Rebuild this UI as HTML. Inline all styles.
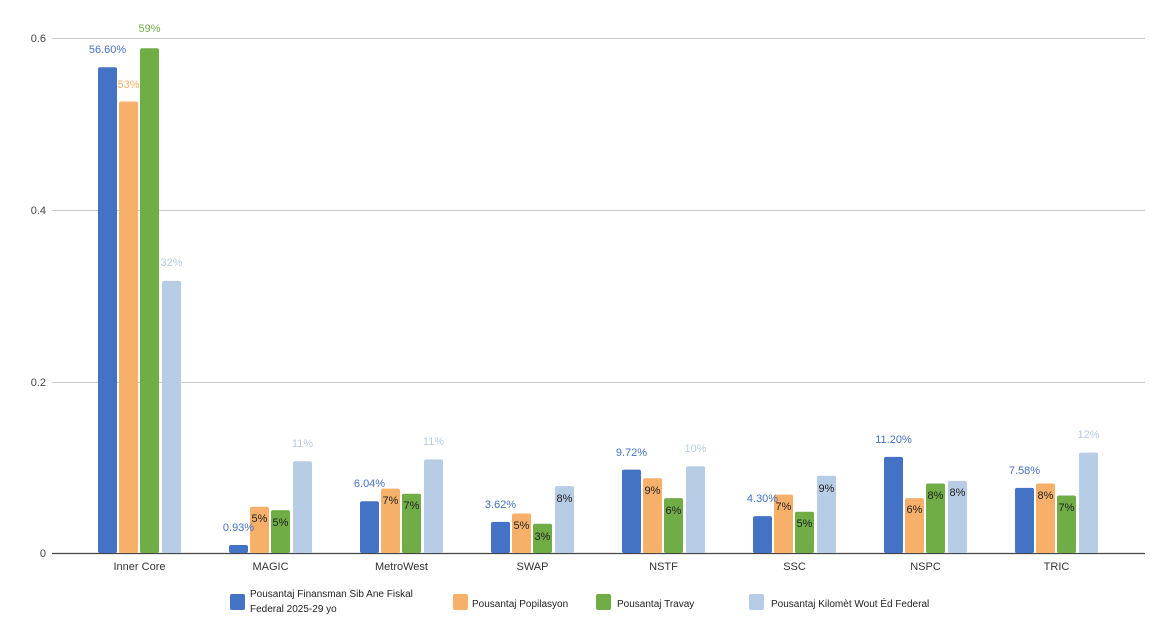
<!DOCTYPE html>
<html><head><meta charset="utf-8"><style>
html,body{margin:0;padding:0;background:#fff}
svg{display:block;font-family:"Liberation Sans",Arial,sans-serif}
</style></head><body>
<svg width="1174" height="644" viewBox="0 0 1174 644" xmlns="http://www.w3.org/2000/svg">
<g stroke="#c8c8c8" stroke-width="1">
<line x1="52" y1="38.5" x2="1145" y2="38.5"/>
<line x1="52" y1="210.5" x2="1145" y2="210.5"/>
<line x1="52" y1="382.5" x2="1145" y2="382.5"/>
</g>
<line x1="52" y1="553.5" x2="1145" y2="553.5" stroke="#444" stroke-width="1.2"/>
<g font-size="11" fill="#444" text-anchor="end">
<text x="46" y="42">0.6</text><text x="46" y="214">0.4</text><text x="46" y="386">0.2</text><text x="46" y="557">0</text>
</g>
<g font-size="11" fill="#333" text-anchor="middle">
<text x="139.5" y="570">Inner Core</text><text x="270.5" y="570">MAGIC</text><text x="401.5" y="570">MetroWest</text><text x="532.5" y="570">SWAP</text><text x="663.5" y="570">NSTF</text><text x="794.5" y="570">SSC</text><text x="925.5" y="570">NSPC</text><text x="1056.5" y="570">TRIC</text>
</g>
<g fill="#4472c4">
<rect x="98" y="67.2" width="19" height="485.8" rx="2"/>
<rect x="229" y="545" width="19" height="8" rx="2"/>
<rect x="360" y="501.2" width="19" height="51.8" rx="2"/>
<rect x="491" y="521.9" width="19" height="31.1" rx="2"/>
<rect x="622" y="469.6" width="19" height="83.4" rx="2"/>
<rect x="753" y="516.1" width="19" height="36.9" rx="2"/>
<rect x="884" y="456.9" width="19" height="96.1" rx="2"/>
<rect x="1015" y="487.9" width="19" height="65.1" rx="2"/>
</g>
<g fill="#f6b06a">
<rect x="119" y="101.5" width="19" height="451.5" rx="2"/>
<rect x="250" y="506.7" width="19" height="46.3" rx="2"/>
<rect x="381" y="488.6" width="19" height="64.4" rx="2"/>
<rect x="512" y="513.5" width="19" height="39.5" rx="2"/>
<rect x="643" y="478.3" width="19" height="74.7" rx="2"/>
<rect x="774" y="494.6" width="19" height="58.4" rx="2"/>
<rect x="905" y="498.1" width="19" height="54.9" rx="2"/>
<rect x="1036" y="483.5" width="19" height="69.5" rx="2"/>
</g>
<g fill="#70ad47">
<rect x="140" y="48.3" width="19" height="504.7" rx="2"/>
<rect x="271" y="510.1" width="19" height="42.9" rx="2"/>
<rect x="402" y="493.8" width="19" height="59.2" rx="2"/>
<rect x="533" y="523.8" width="19" height="29.2" rx="2"/>
<rect x="664" y="498.1" width="19" height="54.9" rx="2"/>
<rect x="795" y="511.8" width="19" height="41.2" rx="2"/>
<rect x="926" y="483.5" width="19" height="69.5" rx="2"/>
<rect x="1057" y="495.5" width="19" height="57.5" rx="2"/>
</g>
<g fill="#b7cce5">
<rect x="162" y="280.9" width="19" height="272.1" rx="2"/>
<rect x="293" y="461.2" width="19" height="91.8" rx="2"/>
<rect x="424" y="459.4" width="19" height="93.6" rx="2"/>
<rect x="555" y="486.1" width="19" height="66.9" rx="2"/>
<rect x="686" y="466.3" width="19" height="86.7" rx="2"/>
<rect x="817" y="475.8" width="19" height="77.2" rx="2"/>
<rect x="948" y="480.9" width="19" height="72.1" rx="2"/>
<rect x="1079" y="452.6" width="19" height="100.4" rx="2"/>
</g>
<g font-size="11" text-anchor="middle">
<g fill="#4472c4">
<text x="107.5" y="53">56.60%</text><text x="238.5" y="531">0.93%</text><text x="369.5" y="487">6.04%</text><text x="500.5" y="508">3.62%</text><text x="631.5" y="456">9.72%</text><text x="762.5" y="502">4.30%</text><text x="893.5" y="443">11.20%</text><text x="1024.5" y="474">7.58%</text>
</g>
<text x="128.5" y="88" fill="#f6b06a">53%</text>
<text x="149.5" y="32" fill="#70ad47">59%</text>
<g fill="#b7cce5">
<text x="171.5" y="266">32%</text><text x="302.5" y="447">11%</text><text x="433.5" y="445">11%</text><text x="695.5" y="452">10%</text><text x="1088.5" y="438">12%</text>
</g>
<g fill="#222">
<text x="259.5" y="522">5%</text><text x="280.5" y="526">5%</text>
<text x="390.5" y="504">7%</text><text x="411.5" y="509">7%</text>
<text x="521.5" y="529">5%</text><text x="542.5" y="540">3%</text><text x="564.5" y="502">8%</text>
<text x="652.5" y="494">9%</text><text x="673.5" y="514">6%</text>
<text x="783.5" y="510">7%</text><text x="804.5" y="527">5%</text><text x="826.5" y="492">9%</text>
<text x="914.5" y="513">6%</text><text x="935.5" y="499">8%</text><text x="957.5" y="496">8%</text>
<text x="1045.5" y="499">8%</text><text x="1066.5" y="511">7%</text>
</g>
</g>
<g font-size="10" fill="#222">
<rect x="230" y="594" width="15" height="16" rx="2" fill="#4472c4"/>
<text x="250" y="597">Pousantaj Finansman Sib Ane Fiskal</text>
<text x="250" y="612">Federal 2025-29 yo</text>
<rect x="453" y="594" width="15" height="16" rx="2" fill="#f6b06a"/>
<text x="472" y="607">Pousantaj Popilasyon</text>
<rect x="596" y="594" width="15" height="16" rx="2" fill="#70ad47"/>
<text x="617" y="607">Pousantaj Travay</text>
<rect x="749" y="594" width="15" height="16" rx="2" fill="#b7cce5"/>
<text x="771" y="607">Pousantaj Kilomèt Wout Ėd Federal</text>
</g>
</svg>
</body></html>
